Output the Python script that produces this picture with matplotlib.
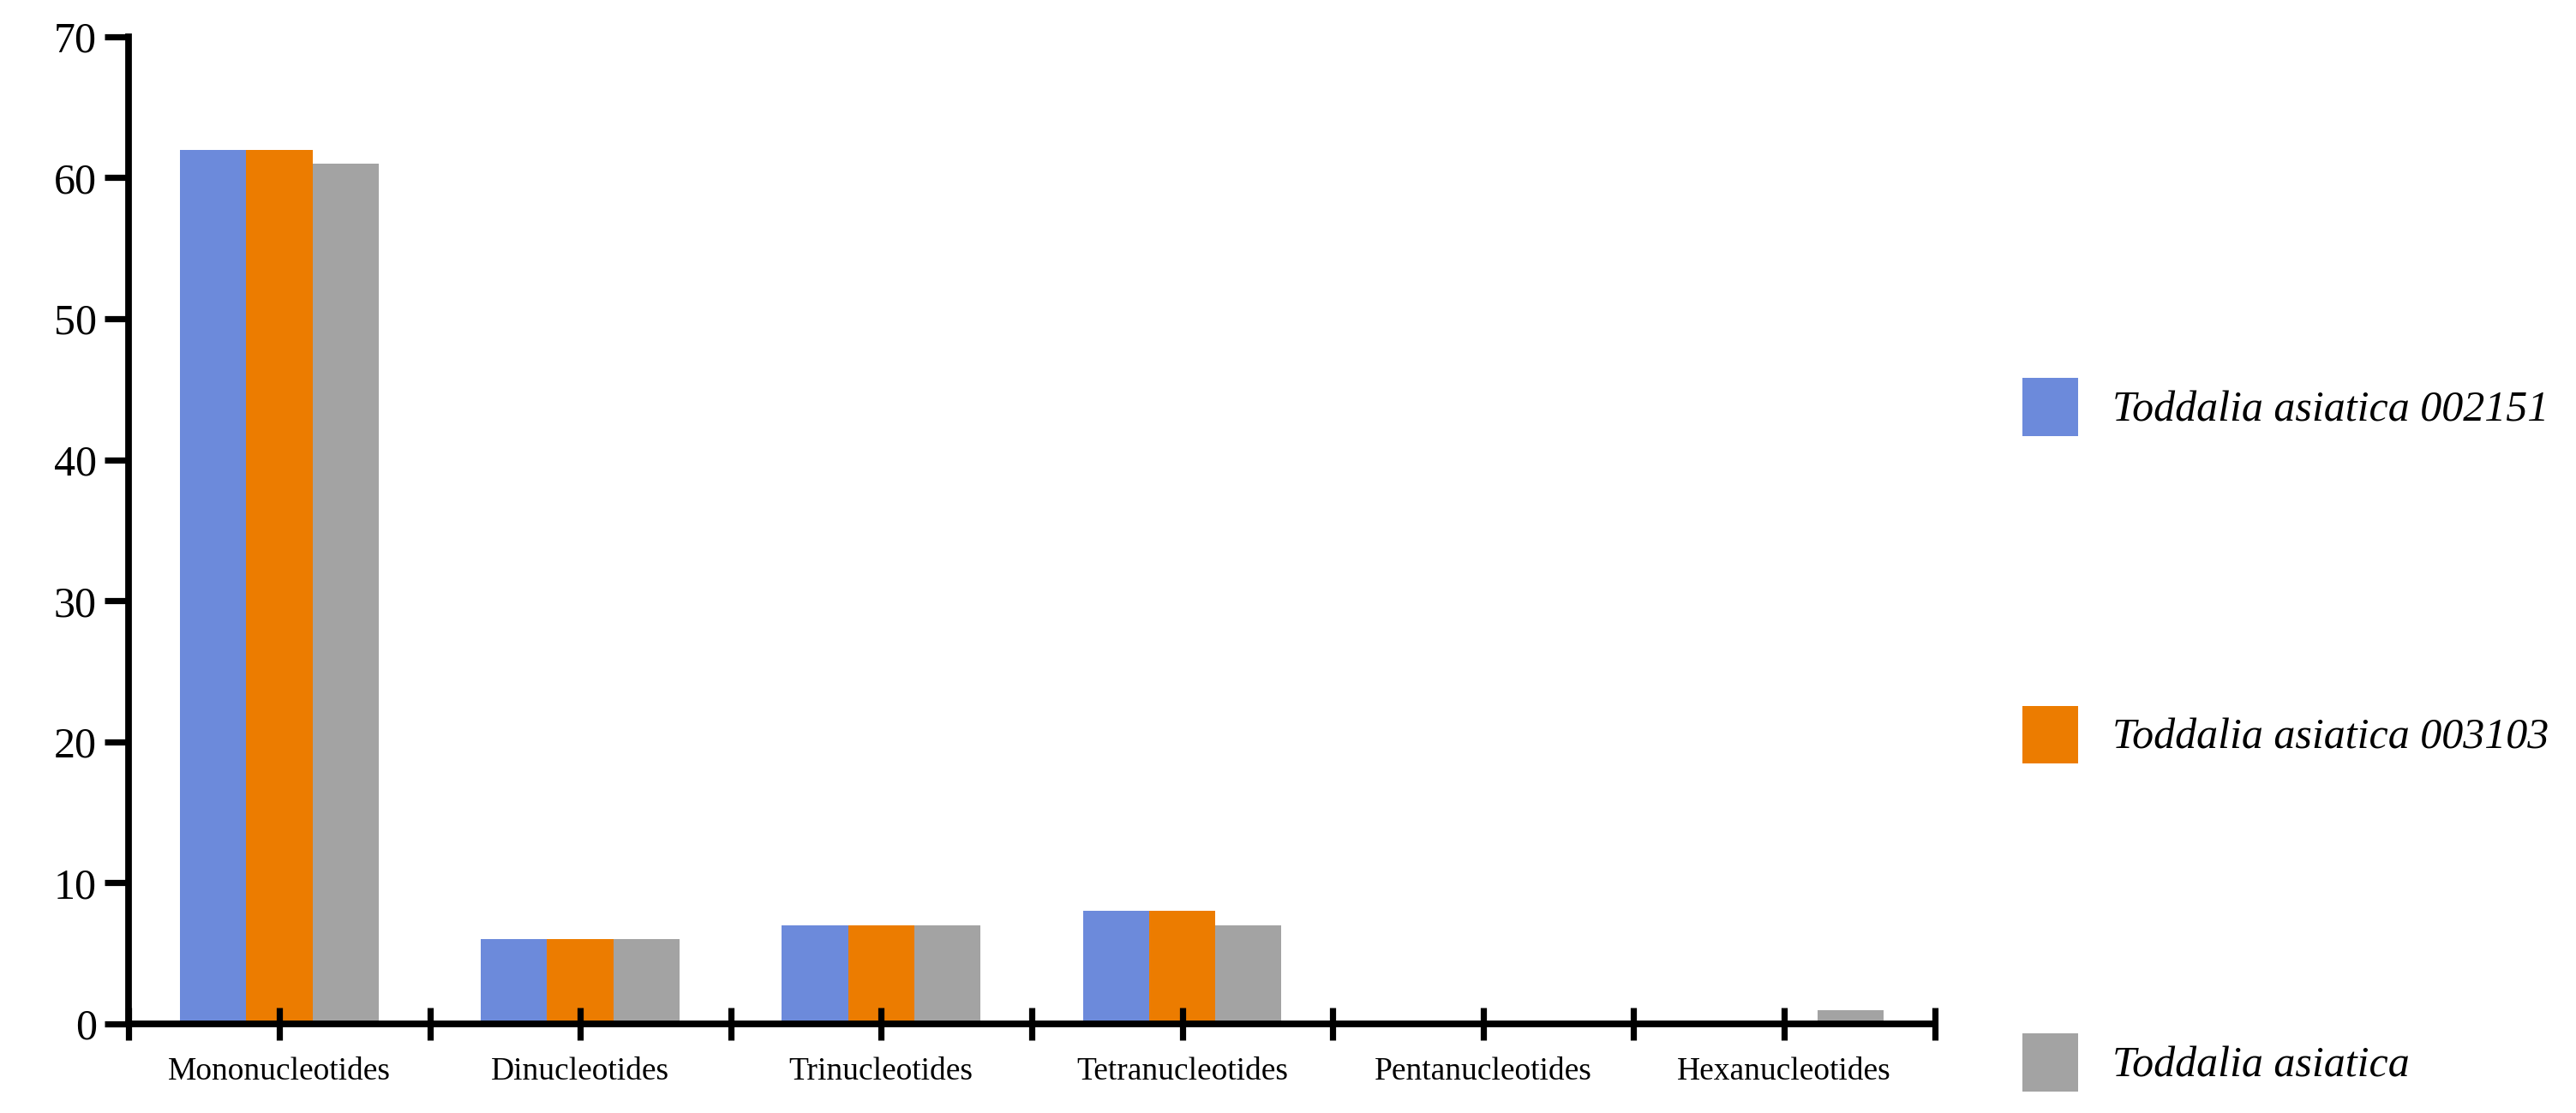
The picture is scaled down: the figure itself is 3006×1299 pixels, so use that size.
import matplotlib
matplotlib.use("Agg")
import matplotlib.pyplot as plt
import numpy as np

categories = ["Mononucleotides", "Dinucleotides", "Trinucleotides",
              "Tetranucleotides", "Pentanucleotides", "Hexanucleotides"]
series_names = ["Toddalia asiatica 002151", "Toddalia asiatica 003103", "Toddalia asiatica"]
vals_002151 = [62, 6, 7, 8, 0, 0]
vals_003103 = [62, 6, 7, 8, 0, 0]
vals_ref = [61, 6, 7, 7, 0, 1]
colors = ["#6C8ADB", "#EC7C00", "#A3A3A3"]

plt.rcParams["font.family"] = ["Liberation Serif", "DejaVu Serif"]

fig = plt.figure(figsize=(15.03, 6.495), dpi=200)
ax = fig.add_axes([0.05, 0.08, 0.701, 0.887])

x = np.arange(len(categories))
w = 0.22
for i, (vals, name) in enumerate(zip([vals_002151, vals_003103, vals_ref], series_names)):
    ax.bar(x + (i - 1) * w, vals, w, color=colors[i], label=name)

ax.set_xlim(-0.5, len(categories) - 0.5)
ax.set_ylim(0, 70)
ax.set_yticks(range(0, 71, 10))
ax.xaxis.remove_overlapping_locs = False
ax.set_xticks(np.arange(-0.5, len(categories), 0.5))
ax.set_xticklabels([])
ax.set_xticks(x, minor=True)
ax.set_xticklabels(categories, minor=True, fontsize=13.5)
ax.tick_params(axis="x", which="minor", length=0, pad=14)
ax.tick_params(axis="x", which="major", direction="inout", length=14, width=2.6)
ax.tick_params(axis="y", direction="out", length=10, width=2.6, labelsize=18)
for s in ["top", "right"]:
    ax.spines[s].set_visible(False)
for s in ["left", "bottom"]:
    ax.spines[s].set_linewidth(2.8)

fig.legend(loc="center left", bbox_to_anchor=(0.77, 0.34), frameon=False,
           labelspacing=6.3, handlelength=1.3, handleheight=1.7,
           prop={"style": "italic", "size": 18})
fig.savefig("out.png", dpi=200)
